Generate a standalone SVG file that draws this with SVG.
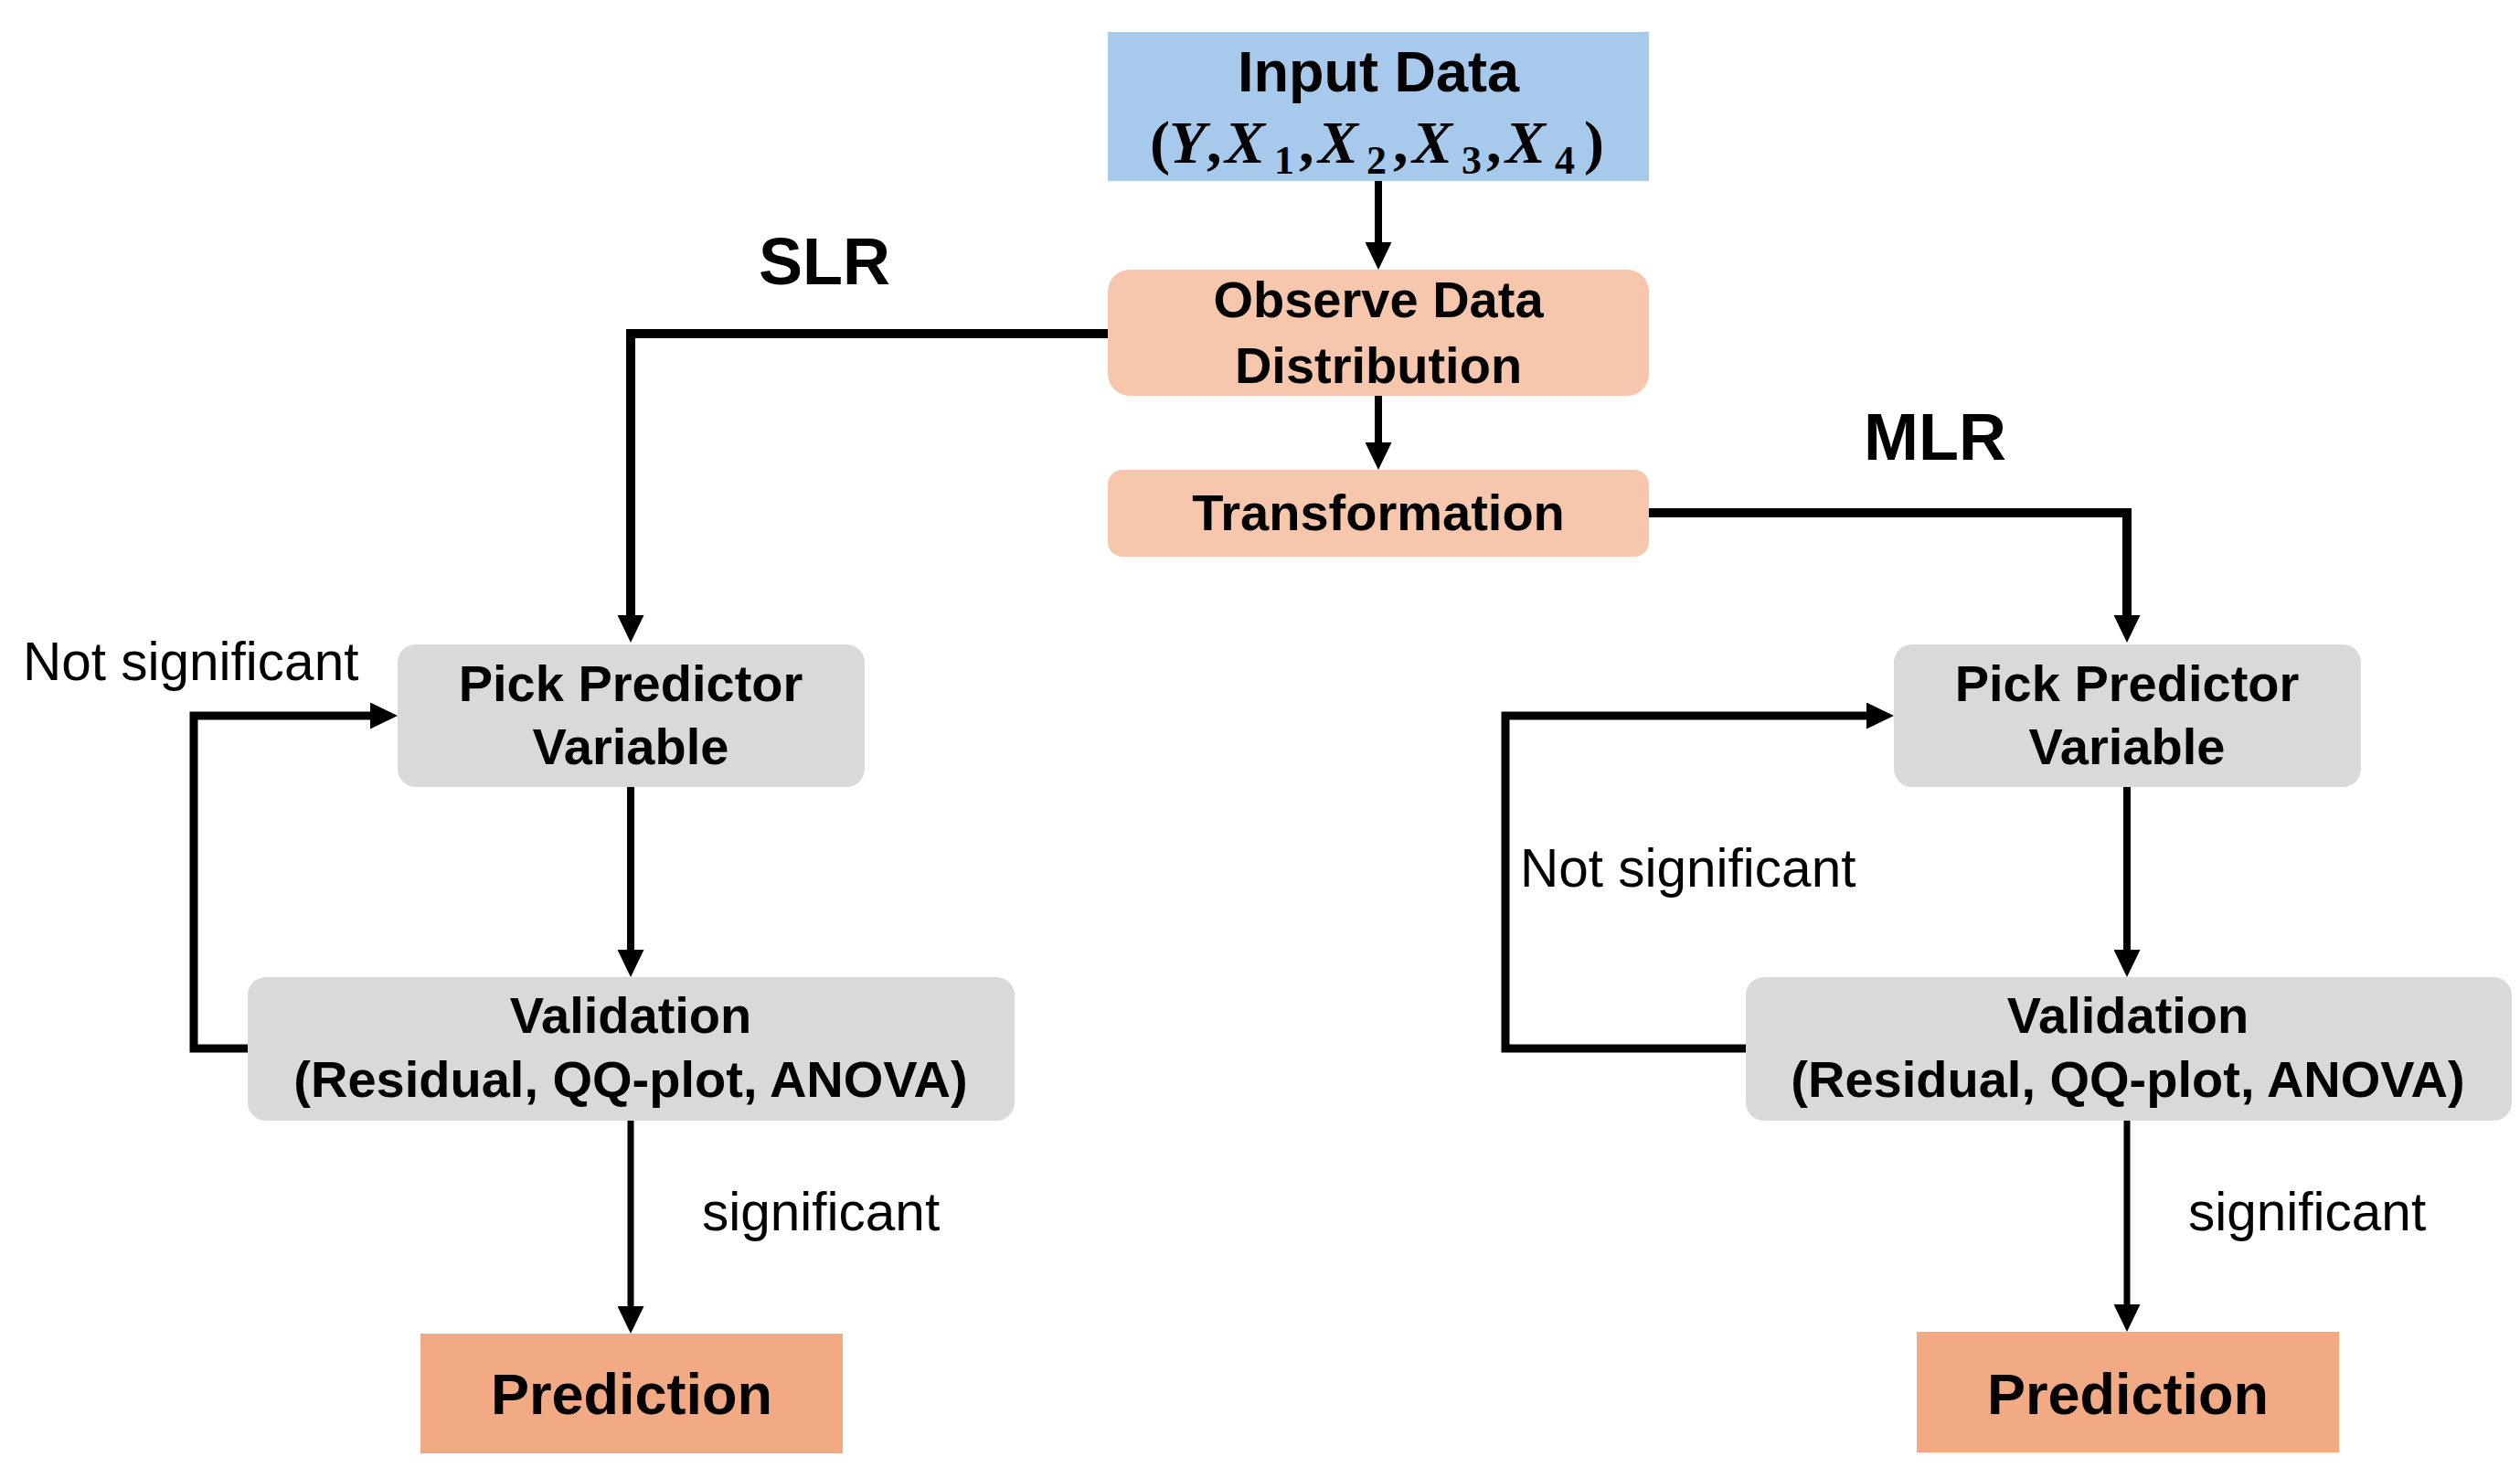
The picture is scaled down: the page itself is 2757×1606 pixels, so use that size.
<svg xmlns="http://www.w3.org/2000/svg" width="2757" height="1606" viewBox="0 0 2757 1606">
<style>
.t{font-family:"Liberation Sans",Arial,sans-serif;font-weight:bold;fill:#000;text-anchor:middle}
.n{font-size:56px}
.big{font-size:63px}
.lab{font-size:72px}
.r{font-family:"Liberation Sans",Arial,sans-serif;font-size:58.5px;fill:#000}
.m{font-family:"Liberation Serif","Times New Roman",serif;font-weight:bold;fill:#000}
.c{fill:none;stroke:#000;stroke-linejoin:miter;stroke-linecap:butt}
</style>
<defs>
<marker id="ah" markerUnits="userSpaceOnUse" markerWidth="30" markerHeight="29" viewBox="0 0 30 29" refX="5" refY="14.5" orient="auto">
<path d="M0,0 L30,14.5 L0,29 z" fill="#000"/>
</marker>
</defs>
<rect width="2757" height="1606" fill="#fff"/>
<g id="connectors">
<path class="c" stroke-width="8" d="M1508,198 V270" marker-end="url(#ah)"/>
<path class="c" stroke-width="8" d="M1508,432 V489" marker-end="url(#ah)"/>
<path class="c" stroke-width="10" d="M1212,365 H690 V678" marker-end="url(#ah)"/>
<path class="c" stroke-width="10" d="M1804,561 H2327 V678" marker-end="url(#ah)"/>
<path class="c" stroke-width="8" d="M690,861 V1044" marker-end="url(#ah)"/>
<path class="c" stroke-width="9" d="M271,1147 H212 V783 H410" marker-end="url(#ah)"/>
<path class="c" stroke-width="7" d="M690,1226 V1434" marker-end="url(#ah)"/>
<path class="c" stroke-width="8" d="M2327,861 V1044" marker-end="url(#ah)"/>
<path class="c" stroke-width="9" d="M1910,1147 H1647 V783 H2047" marker-end="url(#ah)"/>
<path class="c" stroke-width="7" d="M2327,1226 V1432" marker-end="url(#ah)"/>
</g>
<g id="labels">
<text class="t lab" x="902" y="311">SLR</text>
<text class="t lab" x="2117" y="503">MLR</text>
<text class="r" x="25" y="744">Not significant</text>
<text class="r" x="1663" y="970">Not significant</text>
<text class="r" x="768" y="1346">significant</text>
<text class="r" x="2394" y="1346">significant</text>
</g>
<g id="input">
<rect x="1212" y="35" width="592" height="163" fill="#A6C9EC"/>
<text class="t big" x="1508" y="100">Input Data</text>
<text class="m" y="178" font-size="66"><tspan x="1258">(</tspan><tspan x="1279" font-style="italic">Y</tspan><tspan x="1320">,</tspan><tspan x="1340" font-style="italic">X</tspan><tspan x="1394" y="190" font-size="44">1</tspan><tspan x="1421" y="178">,</tspan><tspan x="1442" font-style="italic">X</tspan><tspan x="1495" y="190" font-size="44">2</tspan><tspan x="1524" y="178">,</tspan><tspan x="1545" font-style="italic">X</tspan><tspan x="1599" y="190" font-size="44">3</tspan><tspan x="1626" y="178">,</tspan><tspan x="1647" font-style="italic">X</tspan><tspan x="1701" y="190" font-size="44">4</tspan><tspan x="1733" y="178">)</tspan></text>
</g>
<g id="observe">
<rect x="1212" y="295" width="592" height="138" rx="24" fill="#F7C7AD"/>
<text class="t n" x="1508" y="347">Observe Data</text>
<text class="t n" x="1508" y="419">Distribution</text>
</g>
<g id="transformation">
<rect x="1212" y="514" width="592" height="95" rx="16" fill="#F7C7AD"/>
<text class="t n" x="1508" y="580">Transformation</text>
</g>
<g id="pick-slr">
<rect x="435" y="705" width="511" height="156" rx="20" fill="#D9D9D9"/>
<text class="t n" x="690" y="767">Pick Predictor</text>
<text class="t n" x="690" y="836">Variable</text>
</g>
<g id="validation-slr">
<rect x="271" y="1069" width="839" height="157" rx="20" fill="#D9D9D9"/>
<text class="t n" x="690" y="1130">Validation</text>
<text class="t n" x="690" y="1200">(Residual, QQ-plot, ANOVA)</text>
</g>
<g id="prediction-slr">
<rect x="460" y="1459" width="462" height="131" fill="#F2AA84"/>
<text class="t big" x="691" y="1547">Prediction</text>
</g>
<g id="pick-mlr">
<rect x="2072" y="705" width="511" height="156" rx="20" fill="#D9D9D9"/>
<text class="t n" x="2327" y="767">Pick Predictor</text>
<text class="t n" x="2327" y="836">Variable</text>
</g>
<g id="validation-mlr">
<rect x="1910" y="1069" width="838" height="157" rx="20" fill="#D9D9D9"/>
<text class="t n" x="2328" y="1130">Validation</text>
<text class="t n" x="2328" y="1200">(Residual, QQ-plot, ANOVA)</text>
</g>
<g id="prediction-mlr">
<rect x="2097" y="1457" width="462" height="132" fill="#F2AA84"/>
<text class="t big" x="2328" y="1547">Prediction</text>
</g>
</svg>
